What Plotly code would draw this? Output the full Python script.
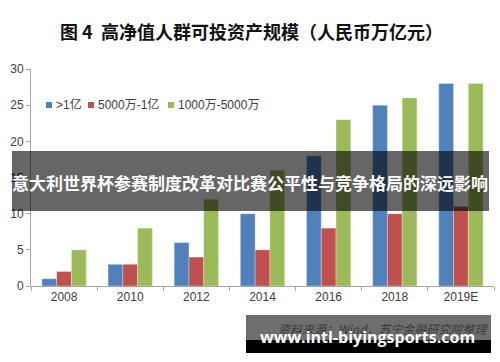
import plotly.graph_objects as go

categories = ["2008", "2010", "2012", "2014", "2016", "2018", "2019E"]
series_names = [">1亿", "5000万-1亿", "1000万-5000万"]
above_100m = [1, 3, 6, 10, 18, 25, 28]
from_50m_to_100m = [2, 3, 4, 5, 8, 10, 11]
from_10m_to_50m = [5, 8, 12, 16, 23, 26, 28]
y_ticks = [0, 5, 10, 15, 20, 25, 30]

colors = ["#4F81BD", "#C0504D", "#9BBB59"]
values = [above_100m, from_50m_to_100m, from_10m_to_50m]

fig = go.Figure()
for name, vals, c in zip(series_names, values, colors):
    fig.add_trace(go.Bar(x=categories, y=vals, name=name,
                         marker=dict(color=c, line=dict(width=0.6, color="rgba(255,255,255,0.5)"))))

W, H = 500, 362
L, R, T, B = 31, 6, 69, 76
pw, ph = W - L - R, H - T - B

def px(x):
    return (x - L) / pw

def py(y):
    return (H - B - y) / ph

fig.update_layout(
    width=W, height=H,
    margin=dict(l=L, r=R, t=T, b=B),
    paper_bgcolor="white", plot_bgcolor="white",
    barmode="group", bargap=0.33, bargroupgap=0,
    font=dict(family="Noto Sans CJK SC, Liberation Sans, sans-serif", color="#404040", size=11),
    showlegend=False,
    xaxis=dict(showline=True, linecolor="#A6A6A6", linewidth=1, ticks="outside", tickson="boundaries",
               ticklen=4, tickcolor="#A6A6A6", automargin=False,
               tickfont=dict(size=12, color="#404040", family="Liberation Sans, sans-serif"),
               showgrid=False),
    yaxis=dict(range=[0, 30], tickvals=y_ticks, showline=True, linecolor="#A6A6A6", linewidth=1,
               ticks="outside", ticklen=4, tickcolor="#A6A6A6", showgrid=False, zeroline=False,
               automargin=False,
               tickfont=dict(size=12, color="#404040", family="Liberation Sans, sans-serif")),
)

# Manual compact legend (squares + labels)
legend_square_x = [46, 88, 168]
for name, c, sx in zip(series_names, colors, legend_square_x):
    fig.add_shape(type="rect", xref="paper", yref="paper", x0=px(sx), x1=px(sx + 6),
                  y0=py(108), y1=py(102), fillcolor=c, line=dict(width=0))
    fig.add_annotation(text=name, xref="paper", yref="paper", x=px(sx + 8), y=py(105),
                       xanchor="left", yanchor="middle", showarrow=False,
                       font=dict(size=12, color="#404040", family="Liberation Sans, Noto Sans CJK SC"))

# Title
fig.add_annotation(text="<b>图 4  高净值人群可投资产规模（人民币万亿元）</b>", xref="paper", yref="paper",
                   x=px(251), y=py(31), xanchor="center", yanchor="middle", showarrow=False,
                   font=dict(size=18, color="#111111", family="Noto Sans CJK SC"))

# Overlay band
fig.add_shape(type="rect", xref="paper", yref="paper", x0=px(12), x1=px(489), y0=py(211), y1=py(151),
              fillcolor="rgba(0,0,0,0.6)", line=dict(width=0), layer="above")
fig.add_annotation(text="<b>意大利世界杯参赛制度改革对比赛公平性与竞争格局的深远影响</b>", xref="paper", yref="paper",
                   x=px(250), y=py(182), xanchor="center", yanchor="middle", showarrow=False,
                   font=dict(size=17, color="white", family="Noto Sans CJK SC"))

# Watermark box
fig.add_shape(type="rect", xref="paper", yref="paper", x0=px(246), x1=px(491), y0=py(340), y1=py(315),
              fillcolor="#6E6E6E", line=dict(width=0), layer="above")
fig.add_shape(type="rect", xref="paper", yref="paper", x0=px(246), x1=px(491), y0=py(353), y1=py(340),
              fillcolor="#000000", line=dict(width=0), layer="above")
fig.add_annotation(text="<i>资料来源：Wind，苏宁金融研究院整理</i>", xref="paper", yref="paper",
                   x=px(491), y=py(328), xanchor="right", yanchor="middle", showarrow=False,
                   font=dict(size=12, color="#3A3A3A", family="Noto Sans CJK SC"))
fig.add_annotation(text="<b>www.intl-biyingsports.com</b>", xref="paper", yref="paper",
                   x=px(367), y=py(337), xanchor="center", yanchor="middle", showarrow=False,
                   font=dict(size=16, color="white", family="Open Sans, sans-serif"))

fig.write_html("out.html", config={"displayModeBar": False},
               post_script="document.body.style.margin='0';document.body.style.overflow='hidden';")
